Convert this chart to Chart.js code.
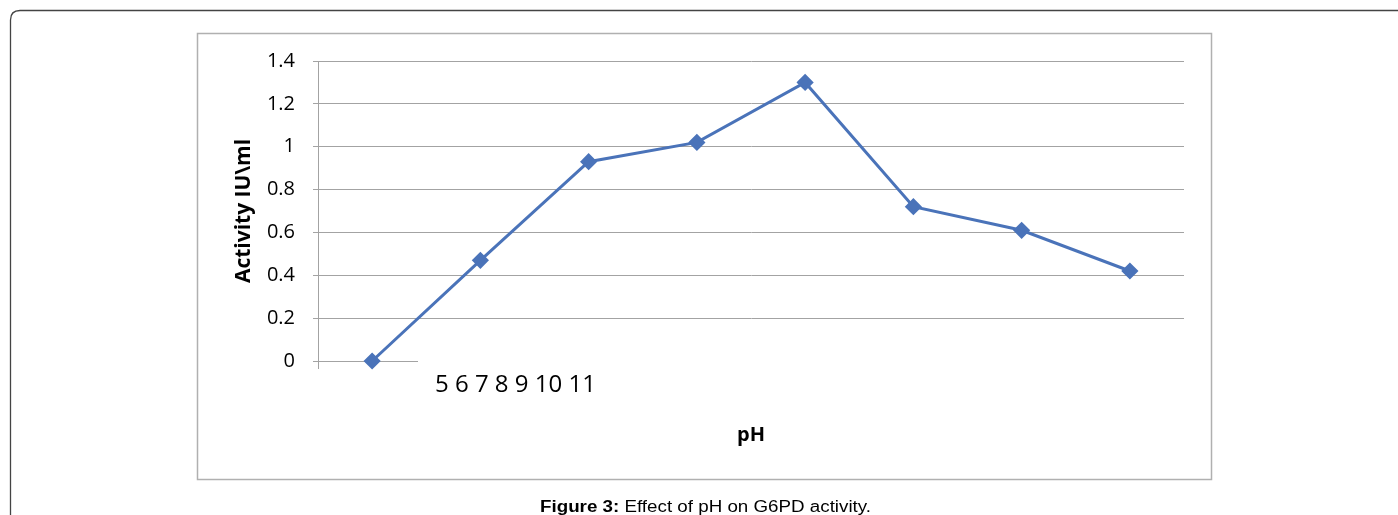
<!DOCTYPE html>
<html>
<head>
<meta charset="utf-8">
<script src="https://cdn.jsdelivr.net/npm/chart.js@4.4.1/dist/chart.umd.min.js"></script>
<style>
  html, body { margin: 0; padding: 0; background: #fff; }
  canvas { display: block; }
</style>
</head>
<body>
<canvas id="c" width="1398" height="515"></canvas>
<script>
// Eight measured points along the pH series
const categories = ['1', '2', '3', '4', '5', '6', '7', '8'];
const activity = [0, 0.47, 0.93, 1.02, 1.3, 0.72, 0.61, 0.42];
const yTicks = [0, 0.2, 0.4, 0.6, 0.8, 1, 1.2, 1.4];
const phText = '5 6 7 8 9 10 11';
const xTitle = 'pH';
const yTitle = 'Activity IU\\ml';
const captionBold = 'Figure 3:';
const captionText = ' Effect of pH on G6PD activity.';

const labelFont = '"Open Sans", Lato, sans-serif';
const captionFont = '"Liberation Sans", Arial, sans-serif';
const gridGray = '#a3a3a3';

const decor = {
  id: 'decor',
  beforeDraw(chart) {
    const ctx = chart.ctx;
    ctx.save();
    ctx.fillStyle = '#fff';
    ctx.fillRect(0, 0, chart.width, chart.height);
    // page frame with rounded corner
    ctx.strokeStyle = '#444';
    ctx.lineWidth = 1.3;
    ctx.beginPath();
    ctx.moveTo(10.5, 530);
    ctx.lineTo(10.5, 20);
    ctx.quadraticCurveTo(10.5, 10.5, 20, 10.5);
    ctx.lineTo(1410, 10.5);
    ctx.stroke();
    // chart box
    ctx.strokeStyle = '#b0b0b0';
    ctx.lineWidth = 1.5;
    ctx.strokeRect(197.5, 33.5, 1014, 446);
    ctx.restore();
  },
  beforeDatasetsDraw(chart) {
    const ctx = chart.ctx;
    const y = chart.scales.y;
    const x = chart.scales.x;
    const y0 = y.getPixelForValue(0);
    ctx.save();
    // text box over the category axis
    ctx.fillStyle = '#fff';
    ctx.fillRect(418, y0 - 3, x.right - 418 + 2, 6);
    // left tick of the category axis
    ctx.strokeStyle = gridGray;
    ctx.lineWidth = 1;
    ctx.beginPath();
    ctx.moveTo(x.left + 0.5, y0);
    ctx.lineTo(x.left + 0.5, y0 + 8);
    ctx.stroke();
    ctx.restore();
  },
  afterDraw(chart) {
    const ctx = chart.ctx;
    ctx.save();
    ctx.fillStyle = '#000';
    ctx.textBaseline = 'middle';
    ctx.font = '24px ' + labelFont;
    ctx.textAlign = 'left';
    ctx.fillText(phText, 435, 385);
    ctx.font = 'bold 20px ' + labelFont;
    ctx.textAlign = 'center';
    ctx.fillText(xTitle, 751, 435);
    ctx.font = 'bold 21px ' + labelFont;
    ctx.translate(244, 211);
    ctx.rotate(-Math.PI / 2);
    ctx.fillText(yTitle, 0, 0);
    ctx.restore();

    // caption, stretched to the column width
    ctx.save();
    ctx.fillStyle = '#000';
    ctx.textBaseline = 'middle';
    ctx.textAlign = 'left';
    ctx.font = 'bold 16px ' + captionFont;
    const wb = ctx.measureText(captionBold).width;
    ctx.font = '16px ' + captionFont;
    const wt = ctx.measureText(captionText).width;
    const sx = 331 / (wb + wt);
    ctx.translate(540, 508);
    ctx.scale(sx, 1);
    ctx.font = 'bold 16px ' + captionFont;
    ctx.fillText(captionBold, 0, 0);
    ctx.font = '16px ' + captionFont;
    ctx.fillText(captionText, wb, 0);
    ctx.restore();
  }
};

new Chart(document.getElementById('c'), {
  type: 'line',
  data: {
    labels: categories,
    datasets: [{
      data: activity,
      borderColor: '#4a73b9',
      backgroundColor: '#4a73b9',
      borderWidth: 3,
      pointStyle: 'rectRot',
      pointRadius: 6.5,
      pointHoverRadius: 6.5,
      tension: 0,
      fill: false,
      clip: false
    }]
  },
  options: {
    responsive: false,
    animation: false,
    events: [],
    layout: { padding: { left: 218, right: 214, top: 61, bottom: 114 } },
    plugins: { legend: { display: false }, tooltip: { enabled: false } },
    scales: {
      x: {
        type: 'category',
        offset: true,
        grid: { display: false, drawTicks: false },
        border: { display: false },
        ticks: { display: false },
        afterFit(s) { s.height = 40; }
      },
      y: {
        min: 0,
        max: 1.4,
        afterBuildTicks(s) { s.ticks = yTicks.map(v => ({ value: v })); },
        grid: { color: gridGray, lineWidth: 1, tickLength: 5, tickColor: gridGray },
        border: { display: true, color: gridGray, width: 1 },
        ticks: {
          color: '#000',
          padding: 18,
          font: { family: labelFont, size: 20 },
          callback: v => String(v)
        },
        afterFit(s) { s.width = 100; }
      }
    }
  },
  plugins: [decor]
});
</script>
</body>
</html>
